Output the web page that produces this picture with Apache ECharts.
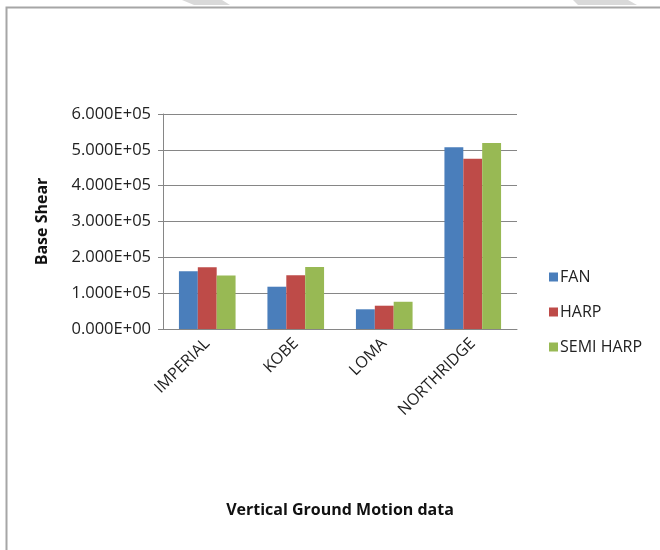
<!DOCTYPE html>
<html>
<head>
<meta charset="utf-8">
<script src="https://cdn.jsdelivr.net/npm/echarts@6/dist/echarts.min.js"></script>
<style>html,body{margin:0;padding:0;background:#fff;}#c{width:660px;height:550px;}</style>
</head>
<body>
<div id="c"></div>
<script>
var categories = ['IMPERIAL', 'KOBE', 'LOMA', 'NORTHRIDGE'];
var fan = [161000, 118000, 55000, 507000];
var harp = [172000, 150000, 65000, 475000];
var semiHarp = [149000, 173000, 76000, 519000];
var seriesNames = ['FAN', 'HARP', 'SEMI HARP'];
var colors = ['#4a7ebb', '#be4b48', '#98b954'];
var yTicks = [0, 100000, 200000, 300000, 400000, 500000, 600000];

var font = '"Open Sans", sans-serif';
var chart = echarts.init(document.getElementById('c'));
function fmt(v) {
  if (v === 0) return '0.000E+00';
  var e = Math.floor(Math.log10(v));
  var m = v / Math.pow(10, e);
  return m.toFixed(3) + 'E+' + (e < 10 ? '0' + e : e);
}
chart.setOption({
  animation: false,
  backgroundColor: '#fff',
  color: colors,
  graphic: [
    { type: 'rect', shape: { x: 6.5, y: 7.5, width: 700, height: 600 }, style: { fill: 'none', stroke: '#a6a6a6', lineWidth: 2 } },
    { type: 'polygon', shape: { points: [[182, 0], [222, 0], [230, 5], [194, 5]] }, style: { fill: '#d9d9d9' } },
    { type: 'polygon', shape: { points: [[573, 0], [628, 0], [637, 5], [578, 5]] }, style: { fill: '#d9d9d9' } }
  ],
  legend: {
    orient: 'vertical',
    left: 544,
    top: 264,
    itemWidth: 9,
    itemHeight: 9,
    itemGap: 19,
    icon: 'rect',
    textStyle: { fontFamily: font, fontSize: 16, color: '#222', padding: [0, 0, 0, -3] },
    data: seriesNames
  },
  grid: { left: 163, right: 143, top: 114, bottom: 221, containLabel: false },
  xAxis: {
    type: 'category',
    data: categories,
    name: 'Vertical Ground Motion data',
    nameLocation: 'middle',
    nameGap: 173,
    nameTextStyle: { fontFamily: font, fontSize: 16, fontWeight: 'bold', color: '#111' },
    axisLine: { lineStyle: { color: '#868686', width: 1 } },
    axisTick: { show: false },
    axisLabel: { rotate: 45, fontFamily: font, fontSize: 16, color: '#222', margin: 12, interval: 0 }
  },
  yAxis: {
    type: 'value',
    min: 0,
    max: 600000,
    interval: 100000,
    name: 'Base Shear',
    nameLocation: 'middle',
    nameGap: 113,
    nameRotate: 90,
    nameTextStyle: { fontFamily: font, fontSize: 16, fontWeight: 'bold', color: '#111' },
    axisLine: { show: true, lineStyle: { color: '#868686' } },
    axisTick: { show: true, length: 5, lineStyle: { color: '#868686' } },
    splitLine: { lineStyle: { color: '#868686', width: 1 } },
    axisLabel: { fontFamily: font, fontSize: 16.5, color: '#222', margin: 12, formatter: fmt, customValues: yTicks }
  },
  series: [
    { name: seriesNames[0], type: 'bar', data: fan, barGap: '0%', barCategoryGap: '36%' },
    { name: seriesNames[1], type: 'bar', data: harp, barGap: '0%', barCategoryGap: '36%' },
    { name: seriesNames[2], type: 'bar', data: semiHarp, barGap: '0%', barCategoryGap: '36%' }
  ]
});
</script>
</body>
</html>
